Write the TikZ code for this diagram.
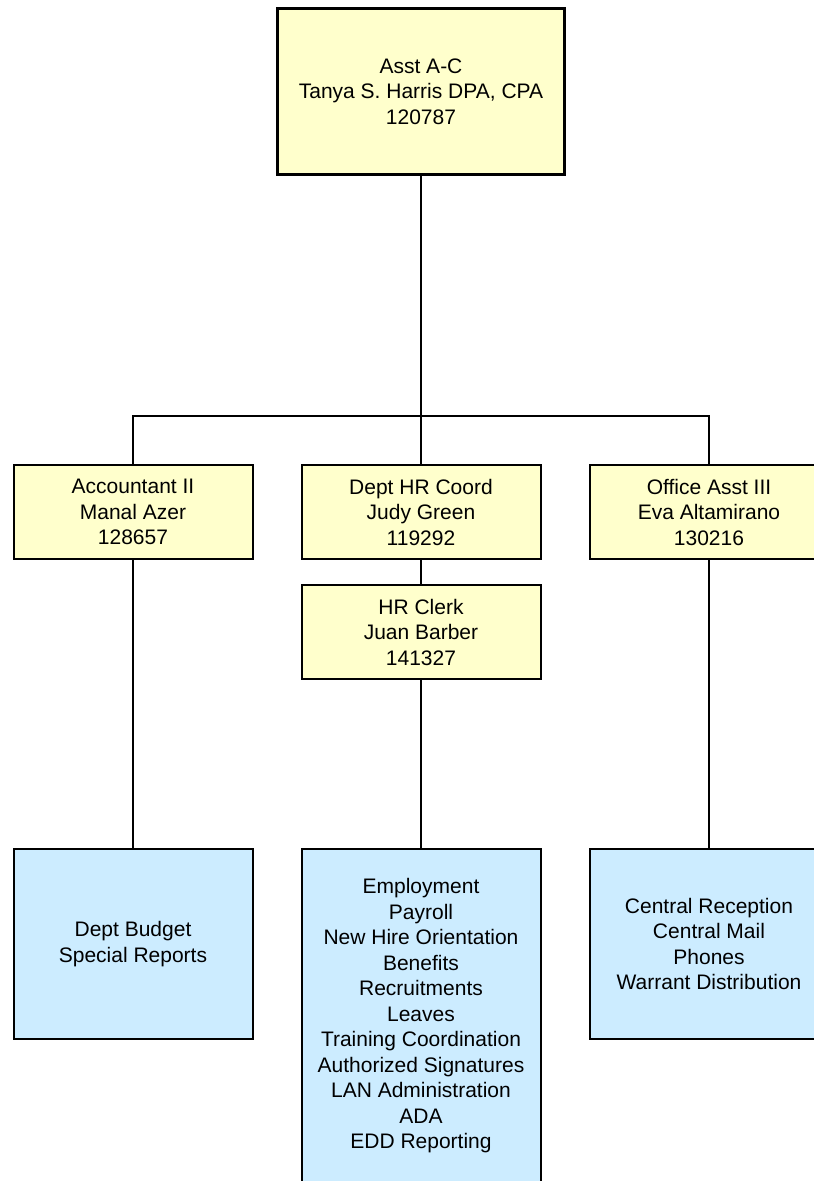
\documentclass[tikz,border=0pt]{standalone}
\usepackage{fontspec}
\setmainfont{Liberation Sans}
\definecolor{postyellow}{HTML}{FFFFCC}
\definecolor{dutyblue}{HTML}{CCECFF}

\begin{document}
\begin{tikzpicture}[
  x=1pt, y=-1pt,
  post/.style={draw, line width=2pt, fill=postyellow, inner sep=0pt,
    minimum width=239pt, minimum height=94pt, align=center,
    font=\fontsize{21}{25.5}\selectfont},
  head/.style={post, line width=3pt, minimum width=287pt, minimum height=166pt},
  duties/.style={post, fill=dutyblue, minimum height=190pt},
  link/.style={line width=1.6pt},
]
  \useasboundingbox (0,0) rectangle (814,1181);
  \node[head] (head) at (421,91.5) {Asst A-C\\Tanya S. Harris DPA, CPA\\120787};
  \node[post] (acct) at (133,512) {Accountant II\\Manal Azer\\128657};
  \node[post] (hrcoord) at (421,512) {Dept HR Coord\\Judy Green\\119292};
  \node[post] (office) at (709,512) {Office Asst III\\Eva Altamirano\\130216};
  \node[post] (clerk) at (421,632) {HR Clerk\\Juan Barber\\141327};
  \node[duties] (budget) at (133,944) {Dept Budget\\Special Reports};
  \node[duties, minimum height=334pt] (hrduties) at (421,1016) {Employment\\Payroll\\New Hire Orientation\\Benefits\\Recruitments\\Leaves\\Training Coordination\\Authorized Signatures\\LAN Administration\\ADA\\EDD Reporting};
  \node[duties] (reception) at (709,944) {Central Reception\\Central Mail\\Phones\\Warrant Distribution};
  \coordinate (bus) at (421,415.7);
  \draw[link] (head) -- (bus);
  \draw[link] (acct.north) |- (bus) -| (office.north);
  \draw[link] (bus) -- (hrcoord);
  \draw[link] (hrcoord) -- (clerk);
  \draw[link] (acct) -- (budget);
  \draw[link] (clerk) -- (hrduties);
  \draw[link] (office) -- (reception);
\end{tikzpicture}
\end{document}
